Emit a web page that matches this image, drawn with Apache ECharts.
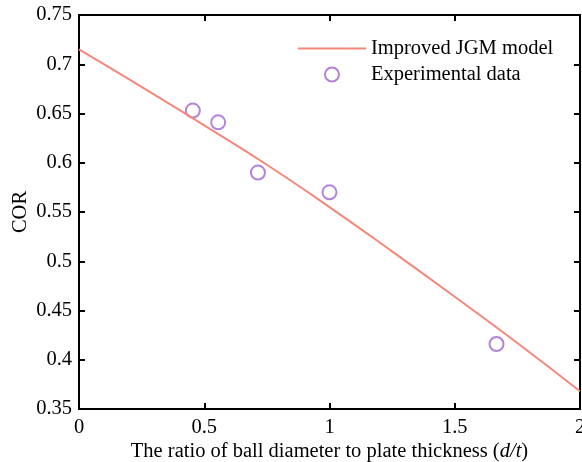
<!DOCTYPE html>
<html>
<head>
<meta charset="utf-8">
<script src="https://cdn.jsdelivr.net/npm/echarts@6/dist/echarts.min.js"></script>
<style>
  html, body { margin: 0; padding: 0; background: #fff; }
  #chart { width: 582px; height: 462px; }
</style>
</head>
<body>
<div id="chart"></div>
<script>
// 模型曲线
const modelX = [0, 0.25, 0.5, 0.75, 1.0, 1.25, 1.5, 1.75, 2.0]
const modelCOR = [0.715, 0.677, 0.638, 0.598, 0.555, 0.510, 0.464, 0.417, 0.368]

// 实验数据
const expX = [0.4545, 0.5556, 0.7143, 1.0, 1.6667]
const expCOR = [0.653, 0.641, 0.590, 0.570, 0.416]

const serif = '"Liberation Serif", "Times New Roman", serif'
const fontSize = 20.5
const lineColor = '#f4877a'
const dotColor = '#a363cf'

const chart = echarts.init(document.getElementById('chart'))

const axisBase = {
  type: 'value',
  axisLine: { show: true, onZero: false, lineStyle: { color: '#000', width: 2 } },
  axisTick: { show: true, inside: true, length: 6, lineStyle: { color: '#000', width: 2 } },
  splitLine: { show: false }
}

const option = {
  animation: false,
  grid: { left: 79, right: 2, top: 15, bottom: 53, outerBoundsMode: 'none', containLabel: false },
  legend: {
    orient: 'vertical',
    left: 298,
    top: 38,
    padding: 0,
    itemWidth: 68,
    itemHeight: 14,
    itemGap: 5,
    textStyle: { fontFamily: serif, fontSize: fontSize, color: '#000' },
    data: [
      { name: 'Improved JGM model', icon: 'path://M0,0H68V2H0Z' },
      { name: 'Experimental data' }
    ]
  },
  xAxis: [
    Object.assign({}, axisBase, {
      min: 0, max: 2, interval: 0.5,
      position: 'bottom',
      axisLabel: { fontFamily: serif, fontSize: fontSize, color: '#000', margin: 8 },
      name: 'The ratio of ball diameter to plate thickness ({i|d/t})',
      nameLocation: 'middle',
      nameGap: 32,
      nameMoveOverlap: false,
      nameTextStyle: {
        fontFamily: serif, fontSize: fontSize, color: '#000',
        rich: { i: { fontFamily: serif, fontSize: fontSize, fontStyle: 'italic', color: '#000' } }
      }
    }),
    Object.assign({}, axisBase, {
      min: 0, max: 2, interval: 0.5,
      position: 'top',
      axisLabel: { show: false }
    })
  ],
  yAxis: [
    Object.assign({}, axisBase, {
      min: 0.35, max: 0.75, interval: 0.05,
      position: 'left',
      axisLabel: { fontFamily: serif, fontSize: fontSize, color: '#000', margin: 7 },
      name: 'COR',
      nameLocation: 'middle',
      nameGap: 48,
      nameMoveOverlap: false,
      nameTextStyle: { fontFamily: serif, fontSize: fontSize, color: '#000' }
    }),
    Object.assign({}, axisBase, {
      min: 0.35, max: 0.75, interval: 0.05,
      position: 'right',
      axisLabel: { show: false }
    })
  ],
  series: [
    {
      name: 'Improved JGM model',
      type: 'line',
      symbol: 'none',
      smooth: true,
      lineStyle: { color: lineColor, width: 2 },
      itemStyle: { color: lineColor },
      data: modelX.map((x, i) => [x, modelCOR[i]])
    },
    {
      name: 'Experimental data',
      type: 'scatter',
      symbol: 'emptyCircle',
      symbolSize: 14,
      itemStyle: { color: dotColor, borderColor: dotColor, borderWidth: 2 },
      data: expX.map((x, i) => [x, expCOR[i]])
    }
  ]
}

chart.setOption(option)
</script>
</body>
</html>
